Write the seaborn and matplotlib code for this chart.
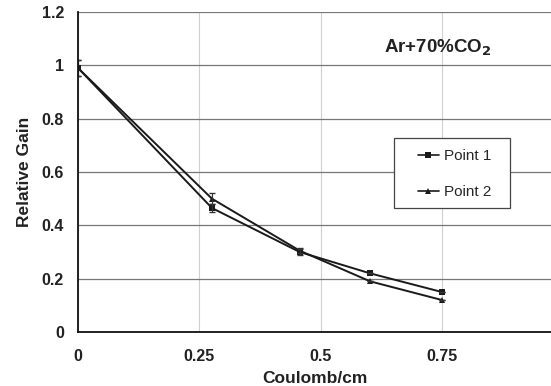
import matplotlib
matplotlib.use("Agg")
import matplotlib.pyplot as plt
from matplotlib.patches import Rectangle
import seaborn as sns
import pandas as pd

charge = [0.0, 0.276, 0.457, 0.602, 0.75]
point1 = [0.99, 0.465, 0.300, 0.220, 0.150]
point2 = [0.99, 0.500, 0.305, 0.190, 0.120]
err1 = [0.03, 0.015, 0.01, 0.0, 0.0]
err2 = [0.03, 0.02, 0.01, 0.0, 0.0]
series = ["Point 1", "Point 2"]

rows = []
for name, vals in zip(series, [point1, point2]):
    for x, y in zip(charge, vals):
        rows.append({"Coulomb/cm": x, "Relative Gain": y, "Series": name})
df = pd.DataFrame(rows)

sns.set_style("white")
plt.rcParams["font.family"] = ["Liberation Sans", "DejaVu Sans"]

fig = plt.figure(figsize=(5.51, 3.86), dpi=100)
ax = fig.add_axes([78 / 551, 54 / 386, 473 / 551, 320 / 386])

sns.lineplot(data=df, x="Coulomb/cm", y="Relative Gain", hue="Series", style="Series",
             markers={"Point 1": "s", "Point 2": "^"}, dashes=False,
             palette={"Point 1": "#1a1a1a", "Point 2": "#1a1a1a"},
             markersize=5, linewidth=1.4, ax=ax, markeredgewidth=0)

for vals, errs in [(point1, err1), (point2, err2)]:
    ax.errorbar(charge, vals, yerr=errs, fmt="none", ecolor="#333333", elinewidth=0.8, capsize=2.5)

ax.set_xlim(0, 0.975)
ax.set_ylim(0, 1.2)
ax.set_xticks([0, 0.25, 0.5, 0.75])
ax.set_xticklabels(["0", "0.25", "0.5", "0.75"])
ax.set_yticks([0, 0.2, 0.4, 0.6, 0.8, 1.0, 1.2])
ax.set_yticklabels(["0", "0.2", "0.4", "0.6", "0.8", "1", "1.2"])

ax.yaxis.grid(True, color="#777777", linewidth=0.9)
ax.xaxis.grid(True, color="#d0d0d0", linewidth=0.8)
ax.set_axisbelow(True)

for s in ["top", "right"]:
    ax.spines[s].set_visible(False)
for s in ["left", "bottom"]:
    ax.spines[s].set_color("#111111")
    ax.spines[s].set_linewidth(1.3)

ax.tick_params(axis="both", which="both", direction="inout", length=8, width=1.0, color="#111111",
               labelsize=11.5)
ax.tick_params(axis="x", pad=8)
ax.tick_params(axis="y", pad=6)
for lab in ax.get_xticklabels() + ax.get_yticklabels():
    lab.set_fontweight("bold")
    lab.set_color("#222222")

ax.set_xlabel("Coulomb/cm", fontsize=12.5, fontweight="bold", color="#222222", labelpad=5)
ax.set_ylabel("Relative Gain", fontsize=12.5, fontweight="bold", color="#222222", labelpad=7)

ax.text(0.631, 1.065, r"Ar+70%CO$_\mathbf{2}$", fontsize=13.5, fontweight="bold", color="#222222",
        ha="left", va="center")

# legend frame
ax.add_patch(Rectangle((0.668, 0.3875), 0.245, 0.2185, transform=ax.transAxes,
                       facecolor="white", edgecolor="#444444", linewidth=0.9,
                       zorder=4, clip_on=False))

leg = ax.legend(title=None, loc="upper left", bbox_to_anchor=(0.718, 0.571), frameon=False,
                fontsize=11, handlelength=1.4, handletextpad=0.3, borderpad=0, labelspacing=1.45,
                borderaxespad=0)
leg.set_zorder(5)
for h in leg.legend_handles:
    h.set_markersize(4)
    h.set_linewidth(1.2)

fig.savefig("out.png", dpi=100)
